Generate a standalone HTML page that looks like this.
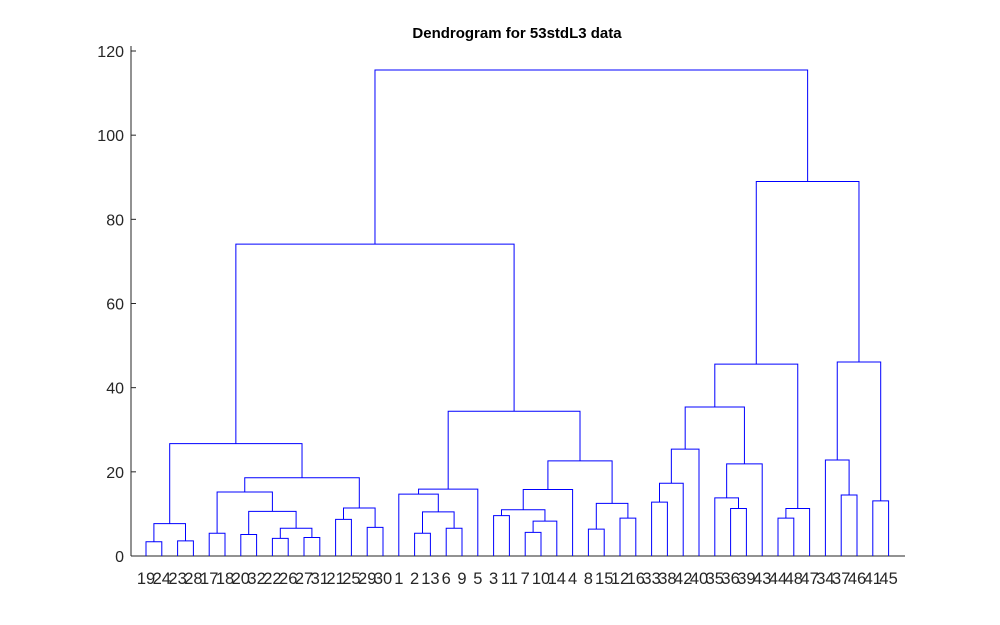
<!DOCTYPE html>
<html><head><meta charset="utf-8"><style>
html,body{margin:0;padding:0;background:#fff;}
svg{display:block;font-family:"Liberation Sans",Arial,sans-serif;}
</style></head><body>
<svg id="chart" width="1000" height="625" viewBox="0 0 1000 625">
<rect width="1000" height="625" fill="#fff"/>
<text x="517" y="38" text-anchor="middle" font-size="15" font-weight="bold" fill="#000">Dendrogram for 53stdL3 data</text>
<g id="axes"></g>
<g id="links"></g>
</svg>
<script>
const leafLabels = ["19","24","23","28","17","18","20","32","22","26","27","31","21","25","29","30","1","2","13","6","9","5","3","11","7","10","14","4","8","15","12","16","33","38","42","40","35","36","39","43","44","48","47","34","37","46","41","45"];
const mergeLeft  = [0,2,48,4,6,8,10,53,52,51,12,14,58,57,50,17,19,63,16,66,22,24,69,68,71,28,30,73,72,67,62,32,79,80,37,36,83,81,40,86,85,44,43,46,90,88,78];
const mergeRight = [1,3,49,5,7,9,11,54,55,56,13,15,59,60,61,18,20,64,65,21,23,25,26,70,27,29,31,74,75,76,77,33,34,35,38,82,39,84,41,42,87,45,89,47,91,92,93];
const mergeHeights = [3.4,3.6,7.7,5.4,5.1,4.2,4.4,6.6,10.6,15.2,8.7,6.8,11.4,18.6,26.7,5.4,6.6,10.5,14.7,15.9,9.6,5.6,8.3,11.0,15.8,6.4,9.0,12.5,22.6,34.4,74.1,12.8,17.3,25.4,11.3,13.8,21.9,35.4,9.0,11.3,45.6,14.5,22.8,13.1,46.1,89.0,115.5];
const yTicks = [0,20,40,60,80,100,120];

const NS="http://www.w3.org/2000/svg";
const X0=146, DX=15.8, Y0=556, YS=(556-51)/120;
const xPos=i=>X0+i*DX;
const yPos=v=>Y0-v*YS;
const axes=document.getElementById('axes');
const links=document.getElementById('links');
function mk(tag,attrs,parent){const e=document.createElementNS(NS,tag);for(const k in attrs)e.setAttribute(k,attrs[k]);parent.appendChild(e);return e;}

const yAxis=mk('line',{x1:131,y1:46,x2:131,y2:556,stroke:'#262626','stroke-width':1},axes);


const xAxis=mk('line',{x1:131,y1:556,x2:905,y2:556,stroke:'#262626','stroke-width':1},axes);


yTicks.forEach(v=>{
  const y=yPos(v);
  const t=mk('line',{x1:131,y1:y,x2:136,y2:y,stroke:'#262626'},axes);
  
  
  const l=mk('text',{x:124,y:y+6,'text-anchor':'end','font-size':16,fill:'#262626'},axes);
  l.textContent=v;
  
  
});
leafLabels.forEach((lab,i)=>{
  const t=mk('text',{x:xPos(i),y:584,'text-anchor':'middle','font-size':16.5,fill:'#262626'},axes);
  t.textContent=lab;
  
  
});

const N=leafLabels.length;
const nodeX=[],nodeH=[];
for(let i=0;i<N;i++){nodeX[i]=xPos(i);nodeH[i]=0;}
for(let m=0;m<mergeLeft.length;m++){
  const a=mergeLeft[m],b=mergeRight[m],h=mergeHeights[m];
  const xa=nodeX[a],xb=nodeX[b],y=yPos(h);
  const p=mk('path',{d:`M${xa},${yPos(nodeH[a])}V${y}H${xb}V${yPos(nodeH[b])}`,fill:'none',stroke:'#0000ff','stroke-width':1},links);
  
  
  nodeX[N+m]=(xa+xb)/2;nodeH[N+m]=h;
}
</script>
</body></html>
